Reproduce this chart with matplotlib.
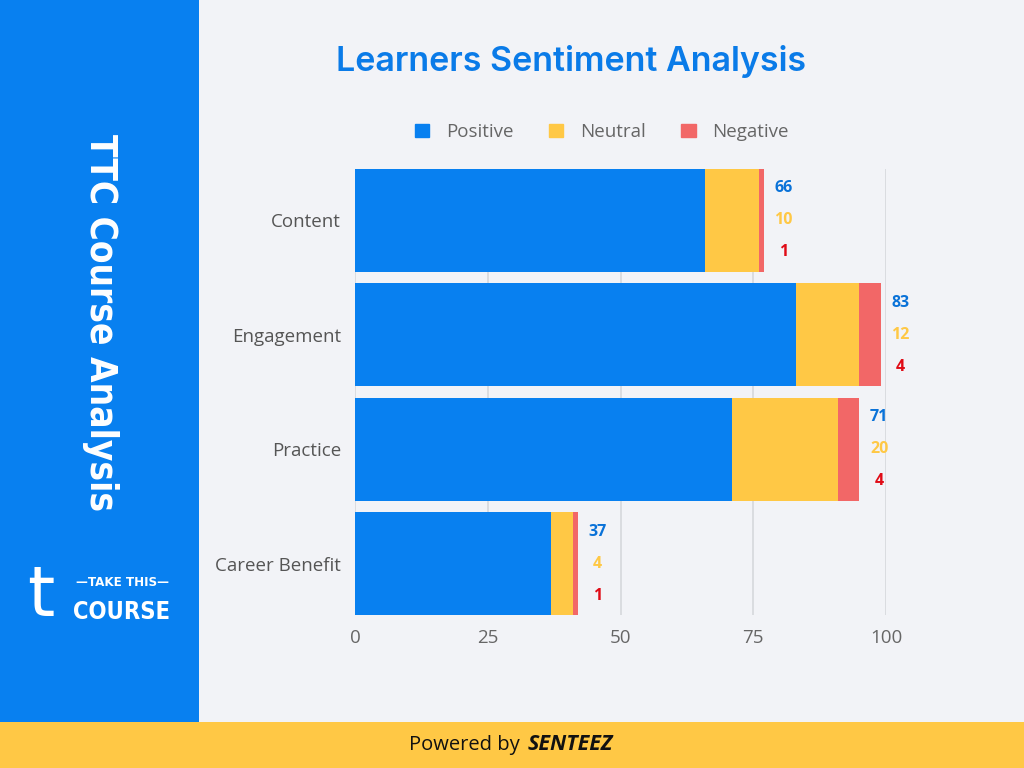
import numpy as np
import matplotlib.pyplot as plt
from matplotlib.patches import Rectangle

categories = ["Content", "Engagement", "Practice", "Career Benefit"]
positive = [66, 83, 71, 37]
neutral = [10, 12, 20, 4]
negative = [1, 4, 4, 1]
x_ticks = [0, 25, 50, 75, 100]

blue = "#0880F0"
yellow = "#FFC845"
red = "#F26767"
bg = "#F2F3F7"

plt.rcParams["font.family"] = ["Open Sans", "DejaVu Sans"]

fig = plt.figure(figsize=(10.24, 7.68), dpi=100)
fig.patch.set_facecolor(bg)

# side panel + footer
fig.patches.append(Rectangle((0, 0), 199 / 1024, 1, transform=fig.transFigure,
                             facecolor=blue, edgecolor="none", zorder=0))
fig.patches.append(Rectangle((0, 0), 1, 46 / 768, transform=fig.transFigure,
                             facecolor=yellow, edgecolor="none", zorder=1))

ax = fig.add_axes([355 / 1024, 1 - 615 / 768, 531 / 1024, 446 / 768])
ax.set_facecolor(bg)

y = np.arange(len(categories))
pos = np.array(positive)
neu = np.array(neutral)
neg = np.array(negative)
h = 0.9
ax.barh(y, pos, height=h, color=blue, zorder=3)
ax.barh(y, neu, left=pos, height=h, color=yellow, zorder=3)
ax.barh(y, neg, left=pos + neu, height=h, color=red, zorder=3)

total = pos + neu + neg
for i in range(len(categories)):
    xt = total[i] + 3.7
    ax.text(xt, y[i] - 0.28, str(pos[i]), color="#0A72D8", ha="center", va="center",
            fontsize=11.5, fontweight="bold", clip_on=False)
    ax.text(xt, y[i], str(neu[i]), color=yellow, ha="center", va="center",
            fontsize=11.5, fontweight="bold", clip_on=False)
    ax.text(xt, y[i] + 0.28, str(neg[i]), color="#E00B16", ha="center", va="center",
            fontsize=11.5, fontweight="bold", clip_on=False)

ax.set_ylim(len(categories) - 0.55, -0.45)
ax.set_xlim(0, 100)
ax.set_yticks(y)
ax.set_yticklabels(categories, fontsize=13.5, color="#555555")
ax.set_xticks(x_ticks)
ax.set_xticklabels([str(t) for t in x_ticks], fontsize=13.5, color="#666666")
ax.tick_params(length=0)
ax.tick_params(axis="y", pad=10)
ax.tick_params(axis="x", pad=10)
ax.grid(axis="x", color="#D6D8DC", linewidth=1.2, zorder=0)
for s in ax.spines.values():
    s.set_visible(False)

# legend
handles = [Rectangle((0, 0), 1, 1, color=c) for c in (blue, yellow, red)]
fig.legend(handles, ["Positive", "Neutral", "Negative"], loc="center",
           bbox_to_anchor=(602 / 1024, 1 - 132 / 768), ncol=3, frameon=False,
           fontsize=13.5, handlelength=0.75, handleheight=0.75, columnspacing=1.9,
           handletextpad=0.9, labelcolor="#666666")

fig.text(571 / 1024, 1 - 62 / 768, "Learners Sentiment Analysis", color="#0A7BE8",
         fontsize=24.5, fontweight="semibold", ha="center", va="center",
         family=["Inter", "DejaVu Sans"])

# side panel texts
fig.text(100 / 1024, 1 - 323 / 768, "TTC Course Analysis", color="white",
         rotation=-90, ha="center", va="center", fontsize=26.5, fontweight="bold",
         fontstretch="condensed", family=["DejaVu Sans"])
fig.text(41 / 1024, 1 - 597 / 768, "t", color="white", ha="center", va="center",
         fontsize=50, fontweight="normal", family=["DejaVu Sans"])
fig.text(122 / 1024, 1 - 582 / 768, "\u2014TAKE THIS\u2014", color="white",
         ha="center", va="center", fontsize=9.5, fontweight="bold",
         fontstretch="condensed", family=["DejaVu Sans"])
fig.text(122 / 1024, 1 - 612 / 768, "COURSE", color="white", ha="center",
         va="center", fontsize=17, fontweight="bold", fontstretch="condensed",
         family=["DejaVu Sans"])

# footer
fig.text(520 / 1024, 1 - 745 / 768, "Powered by", color="#111111", ha="right",
         va="center", fontsize=14.5)
fig.text(528 / 1024, 1 - 745 / 768, "SENTEEZ", color="#111111", ha="left",
         va="center", fontsize=15.5, fontweight="bold", style="italic")

fig.savefig("out.png", dpi=100, facecolor=bg)
